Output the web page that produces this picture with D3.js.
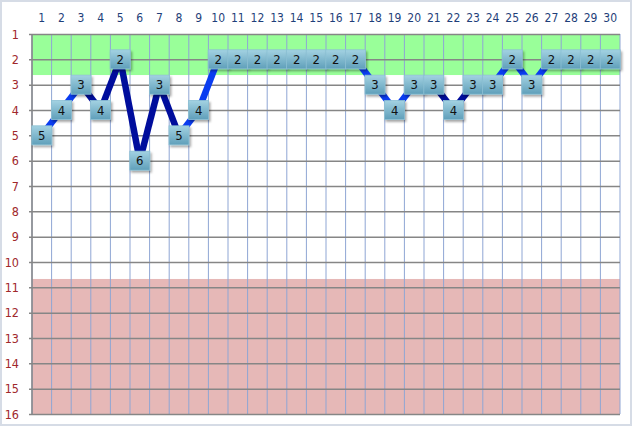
<!DOCTYPE html>
<html>
<head>
<meta charset="utf-8">
<script src="https://cdn.jsdelivr.net/npm/d3@7"></script>
<style>
  body { margin: 0; background: #fff; }
  text { font-family: "DejaVu Sans Condensed", "DejaVu Sans", sans-serif; font-stretch: condensed; }
</style>
</head>
<body>
<div id="chart"></div>
<script>
// data
var days = d3.range(1, 31);
var ranks = [5, 4, 3, 4, 2, 6, 3, 5, 4, 2, 2, 2, 2, 2, 2, 2, 2, 3, 4, 3, 3, 4, 3, 3, 2, 3, 2, 2, 2, 2];
// segments drawn dark (start day of segment)
var darkSegments = [3, 4, 5, 6, 7, 21, 22];
var yTicks = d3.range(1, 17);
var goodZone = [1, 2.62];
var badZone = [10.67, 16];

var W = 632, H = 426;
var margin = {top: 34, right: 12, bottom: 12, left: 32},
  width = W - margin.left - margin.right,
  height = H - margin.top - margin.bottom;

var svg = d3.select("#chart")
  .append("svg")
  .attr("width", W)
  .attr("height", H);

var defs = svg.append("defs");
var grad = defs.append("linearGradient")
  .attr("id", "mk").attr("x1", 0).attr("y1", 0).attr("x2", 0).attr("y2", 1);
grad.append("stop").attr("offset", "0%").attr("stop-color", "#a3d2e2");
grad.append("stop").attr("offset", "100%").attr("stop-color", "#5f9fba");
var shadow = defs.append("filter").attr("id", "sh")
  .attr("x", "-30%").attr("y", "-30%").attr("width", "160%").attr("height", "160%");
shadow.append("feDropShadow")
  .attr("dx", 1.5).attr("dy", 2).attr("stdDeviation", 1.2)
  .attr("flood-color", "#000").attr("flood-opacity", 0.35);

// outer frame
svg.append("rect")
  .attr("x", 1).attr("y", 1).attr("width", W - 2).attr("height", H - 2)
  .attr("fill", "#fff").attr("stroke", "#d6dce6").attr("stroke-width", 2);

var g = svg.append("g")
  .attr("transform", "translate(" + margin.left + "," + margin.top + ")");

var x = d3.scaleBand()
  .domain(days)
  .range([0, width]);

var y = d3.scaleLinear()
  .domain([1, 16])
  .range([0, height]);

// zones
g.append("rect")
  .attr("x", 0).attr("width", width)
  .attr("y", y(goodZone[0])).attr("height", y(goodZone[1]) - y(goodZone[0]))
  .attr("fill", "#99ff99");
g.append("rect")
  .attr("x", 0).attr("width", width)
  .attr("y", y(badZone[0])).attr("height", y(badZone[1]) - y(badZone[0]))
  .attr("fill", "#e6b8b7");

// vertical grid
g.selectAll(".vgrid")
  .data(days.concat([31]))
  .enter()
  .append("line")
  .attr("x1", function(d) { return d === 31 ? width : x(d); })
  .attr("x2", function(d) { return d === 31 ? width : x(d); })
  .attr("y1", 0)
  .attr("y2", height)
  .attr("stroke", "#8fa6d4")
  .attr("stroke-width", 1);

// horizontal grid + y axis
var yAxis = g.append("g")
  .call(d3.axisLeft(y).tickValues(yTicks).tickSize(3).tickPadding(10).tickFormat(d3.format("d")));
yAxis.select(".domain").remove();
yAxis.selectAll(".tick line")
  .attr("x1", -3)
  .attr("x2", width)
  .attr("stroke", "#868686")
  .attr("stroke-width", 1.5);
yAxis.selectAll(".tick text")
  .attr("fill", "#a0282c")
  .style("font-size", "12.5px");

// left border
g.append("line")
  .attr("x1", 0).attr("x2", 0).attr("y1", 0).attr("y2", height)
  .attr("stroke", "#868686").attr("stroke-width", 1.5);

// x axis on top
var xAxis = g.append("g")
  .call(d3.axisTop(x).tickSize(0).tickPadding(12));
xAxis.select(".domain").remove();
xAxis.selectAll(".tick text")
  .attr("fill", "#1f3f7a")
  .style("font-size", "12px");

// line segments
var pts = days.map(function(d, i) { return {day: d, rank: ranks[i]}; });
var segs = d3.pairs(pts);
g.selectAll(".seg")
  .data(segs)
  .enter()
  .append("line")
  .attr("x1", function(d) { return x(d[0].day) + x.bandwidth() / 2; })
  .attr("y1", function(d) { return y(d[0].rank); })
  .attr("x2", function(d) { return x(d[1].day) + x.bandwidth() / 2; })
  .attr("y2", function(d) { return y(d[1].rank); })
  .attr("stroke", function(d) { return darkSegments.indexOf(d[0].day) >= 0 ? "#000d9c" : "#0a3cf0"; })
  .attr("stroke-width", 6.5);

// markers
var mw = 20, mh = 19;
var mk = g.selectAll(".mk")
  .data(pts)
  .enter()
  .append("g")
  .attr("transform", function(d) {
    return "translate(" + (x(d.day) + x.bandwidth() / 2) + "," + y(d.rank) + ")";
  });
mk.append("rect")
  .attr("x", -mw / 2).attr("y", -mh / 2)
  .attr("width", mw).attr("height", mh)
  .attr("fill", "url(#mk)")
  .attr("stroke", "#8cc0d4")
  .attr("stroke-width", 0.8)
  .attr("filter", "url(#sh)");
mk.append("text")
  .attr("text-anchor", "middle")
  .attr("dy", "0.36em")
  .attr("fill", "#111")
  .style("font-size", "13px")
  .text(function(d) { return d.rank; });
</script>
</body>
</html>
